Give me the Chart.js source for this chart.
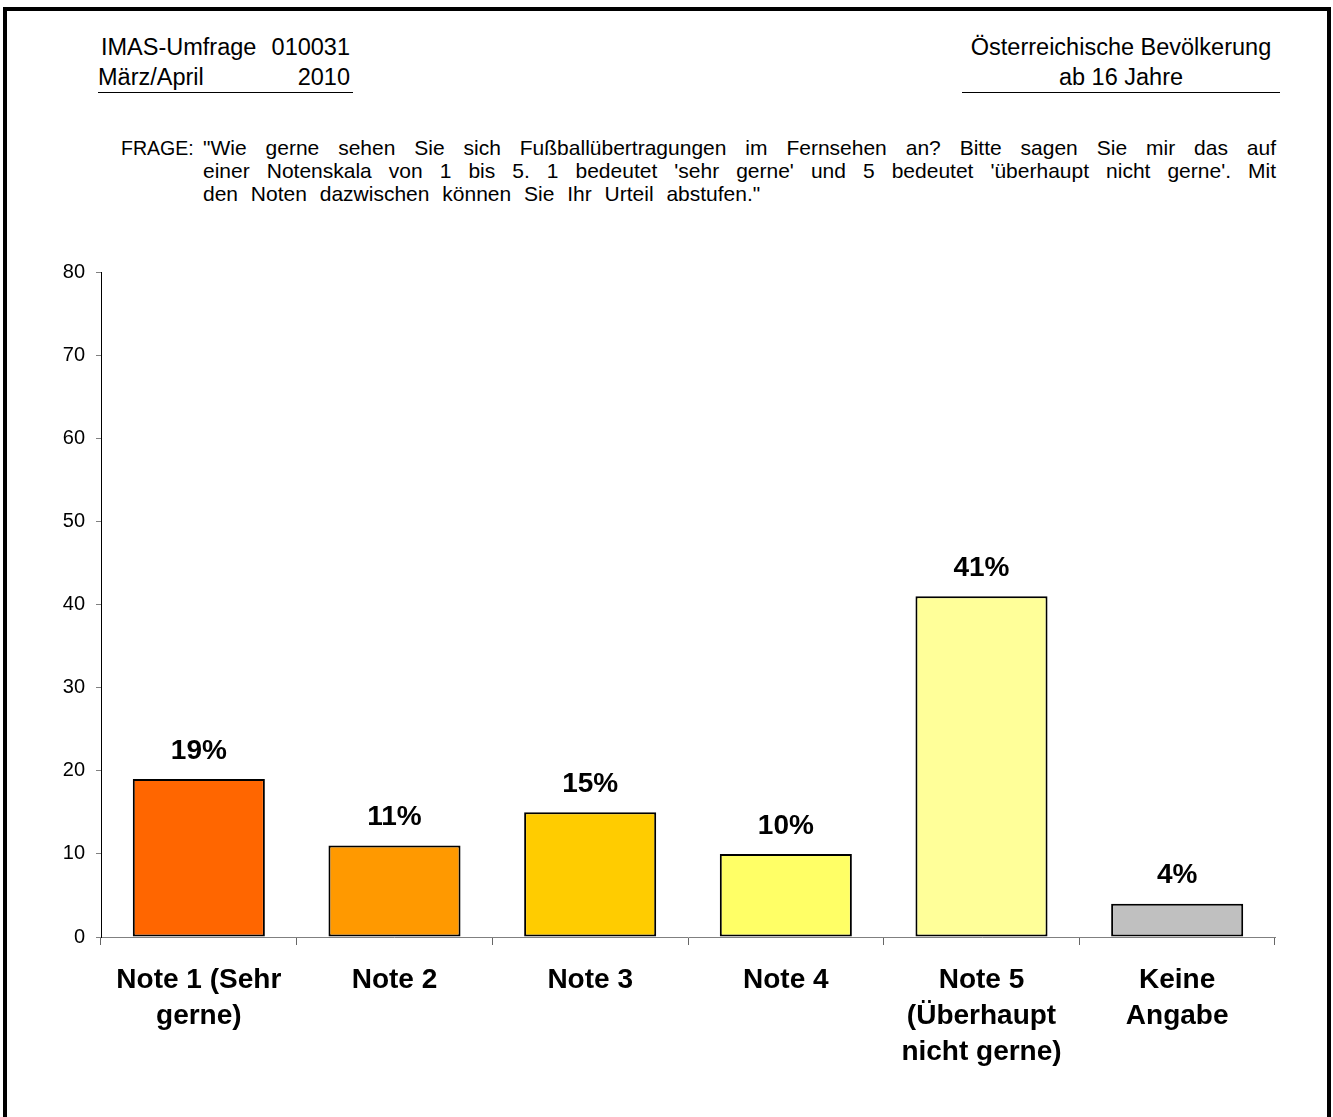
<!DOCTYPE html>
<html>
<head>
<meta charset="utf-8">
<script src="https://cdn.jsdelivr.net/npm/chart.js@4"></script>
<style>
  html, body { margin:0; padding:0; background:#fff; }
  body { width:1333px; height:1117px; position:relative; overflow:hidden; font-family:"Liberation Sans", Arial, sans-serif; color:#000; }
  #frame { position:absolute; left:3px; top:7px; width:1320px; height:1200px; border:4px solid #000; box-sizing:content-box; }
  #hl { position:absolute; left:98px; top:32px; width:255px; font-size:23.5px; line-height:30px; border-bottom:1px solid #000; }
  #hl .row { display:flex; justify-content:space-between; padding-left:3px; padding-right:3px; }
  #hr { position:absolute; left:962px; top:32px; width:318px; font-size:23.5px; line-height:30px; text-align:center; border-bottom:1px solid #000; }
  #q { position:absolute; left:121px; top:136px; width:1156px; font-size:21px; line-height:23px; }
  #q .lbl { position:absolute; left:0; top:0; transform:scaleX(0.93); transform-origin:0 0; }
  #q .txt { position:absolute; left:82px; top:0; width:1073px; }
  #q .ln { text-align:justify; text-align-last:justify; white-space:nowrap; }
  #q .ln.last { text-align-last:left; word-spacing:7px; }
  #c { position:absolute; left:0; top:0; }
</style>
</head>
<body>
<div id="frame"></div>
<div id="hl"><div class="row"><span>IMAS-Umfrage</span><span>010031</span></div><div class="row" style="padding-left:0"><span>März/April</span><span>2010</span></div></div>
<div id="hr"><div>Österreichische Bevölkerung</div><div>ab 16 Jahre</div></div>
<div id="q">
  <div class="lbl">FRAGE:</div>
  <div class="txt">
    <div class="ln" style="white-space:normal">"Wie gerne sehen Sie sich Fußballübertragungen im Fernsehen an? Bitte sagen Sie mir das auf</div>
    <div class="ln" style="white-space:normal">einer Notenskala von 1 bis 5. 1 bedeutet 'sehr gerne' und 5 bedeutet 'überhaupt nicht gerne'. Mit</div>
    <div class="ln last">den Noten dazwischen können Sie Ihr Urteil abstufen."</div>
  </div>
</div>
<canvas id="c" width="1333" height="1117"></canvas>
<script>
const categories = [
  ["Note 1 (Sehr", "gerne)"],
  ["Note 2"],
  ["Note 3"],
  ["Note 4"],
  ["Note 5", "(Überhaupt", "nicht gerne)"],
  ["Keine", "Angabe"]
];
const values = [19, 11, 15, 10, 41, 4];
const barColors = ["#FF6600", "#FF9900", "#FFCC00", "#FFFF66", "#FFFF99", "#C0C0C0"];
const yTicks = [0, 10, 20, 30, 40, 50, 60, 70, 80];

const valueLabels = {
  id: 'valueLabels',
  afterDatasetsDraw(chart) {
    const ctx = chart.ctx;
    const meta = chart.getDatasetMeta(0);
    ctx.save();
    ctx.font = 'bold 28px "Liberation Sans", Arial, sans-serif';
    ctx.fillStyle = '#000';
    ctx.textAlign = 'center';
    ctx.textBaseline = 'middle';
    meta.data.forEach((bar, i) => {
      ctx.fillText(values[i] + '%', bar.x, bar.y - 28);
    });
    ctx.restore();
  }
};

new Chart(document.getElementById('c'), {
  type: 'bar',
  data: {
    labels: categories,
    datasets: [{
      data: values,
      backgroundColor: barColors,
      borderColor: '#000',
      borderWidth: 2,
      borderSkipped: false,
      categoryPercentage: 1,
      barPercentage: 0.675
    }]
  },
  options: {
    responsive: false,
    animation: false,
    devicePixelRatio: 1,
    layout: { padding: { left: 0, top: 272, right: 58, bottom: 0 } },
    plugins: { legend: { display: false }, tooltip: { enabled: false } },
    scales: {
      x: {
        offset: true,
        grid: { display: true, drawOnChartArea: false, drawTicks: true, tickLength: 8, offset: true, color: '#666', lineWidth: 1 },
        border: { display: true, color: '#808080', width: 1 },
        ticks: { color: '#000', font: { family: '"Liberation Sans", Arial, sans-serif', size: 28, weight: 'bold', lineHeight: 1.29 }, padding: 17, maxRotation: 0, autoSkip: false },
        afterFit(scale) { scale.height = 180; }
      },
      y: {
        min: 0, max: 80,
        afterBuildTicks(scale) { scale.ticks = yTicks.map(v => ({ value: v })); },
        grid: { display: true, drawOnChartArea: false, drawTicks: true, tickLength: 5, color: '#808080', lineWidth: 1 },
        border: { display: true, color: '#000', width: 1 },
        ticks: { color: '#000', font: { family: '"Liberation Sans", Arial, sans-serif', size: 20 }, padding: 11 },
        afterFit(scale) { scale.width = 101; }
      }
    }
  },
  plugins: [valueLabels]
});
</script>
</body>
</html>
